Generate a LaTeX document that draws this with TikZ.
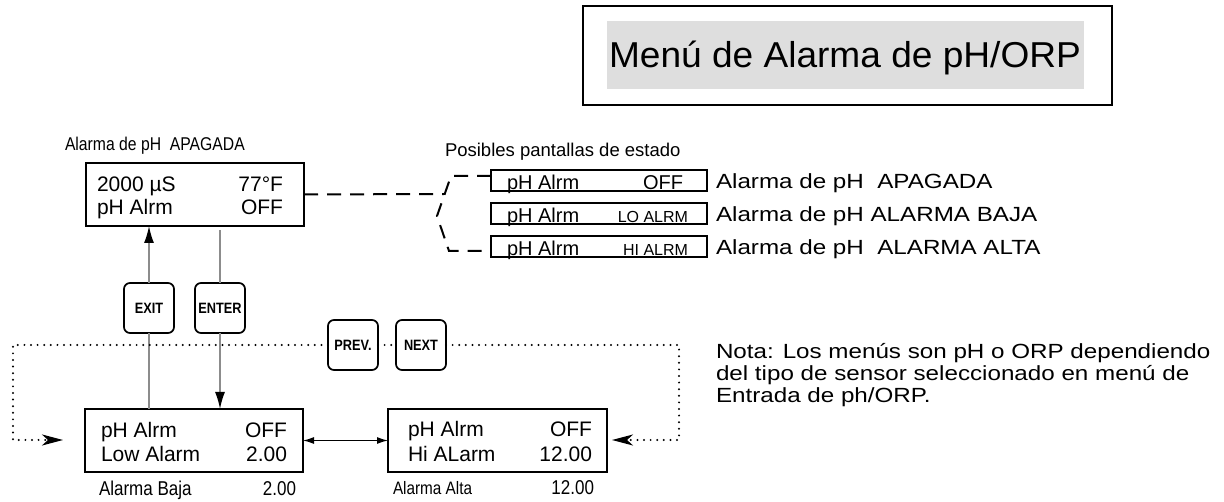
\documentclass[tikz,border=0pt]{standalone}
\usepackage{fontspec}
\setmainfont{Liberation Sans}
\newfontfamily\widefont[FakeStretch=1.18]{Liberation Sans}
\newfontfamily\notefont[FakeStretch=1.18]{Liberation Sans}
\newfontfamily\narrowfont[FakeStretch=0.85]{Liberation Sans}
\newfontfamily\titlefont[FakeStretch=1.03]{Liberation Sans}
\newfontfamily\btnfont[FakeStretch=0.85]{Liberation Sans}
\usetikzlibrary{arrows.meta}
\newcommand\fsz[1]{\fontsize{#1}{#1}\selectfont}
\begin{document}
\begin{tikzpicture}[x=1pt,y=-1pt,
  txt/.style={inner sep=0pt,outer sep=0pt},
  lcd/.style={draw,line width=1.9pt,inner sep=0pt,outer sep=0pt},
  stbox/.style={draw,line width=1.6pt,inner sep=0pt,outer sep=0pt,minimum width=216pt,minimum height=21pt},
  keybtn/.style={draw,rounded corners=6pt,line width=1.7pt,minimum width=50pt,minimum height=50pt,inner sep=0pt,outer sep=0pt,font=\btnfont\bfseries\fsz{15}},
  graylink/.style={draw=black!45,line width=1.5pt},
  dotline/.style={line width=2.2pt,dash pattern=on 0pt off 6.6pt,line cap=round},
  dashline/.style={line width=2pt,dash pattern=on 14pt off 9pt},
  tipL/.style={-{Latex[length=17pt,width=10pt,color=black]}},
  tipS/.style={-{Stealth[length=21pt,width=11pt,inset=6pt]}}
]
\useasboundingbox (0,0) rectangle (1224,502);

% title
\node[draw,line width=1.5pt,minimum width=529pt,minimum height=99pt,inner sep=0pt] (titlebox) at (847.5,55.5) {};
\node[fill=black!13,minimum width=477pt,minimum height=68pt,inner sep=0pt] (titlefill) at (845.5,55) {};
\node[txt,anchor=base west,font=\titlefont\fsz{36}] (titletxt) at (609,68) {Menú de Alarma de pH/ORP};

% top display
\node[txt,anchor=base west,font=\narrowfont\fsz{18.5}] (lblapag) at (65,151) {Alarma de pH~~APAGADA};
\node[lcd,minimum width=218pt,minimum height=63pt] (disp) at (195,194.5) {};
\node[txt,anchor=base west,font=\fsz{21}] (d1) at (97,192) {2000 µS};
\node[txt,anchor=base east,font=\fsz{21}] (d2) at (283,192) {77°F};
\node[txt,anchor=base west,font=\fsz{21}] (d3) at (97,215) {pH Alrm};
\node[txt,anchor=base east,font=\fsz{21}] (d4) at (283,215) {OFF};

% status screens
\node[txt,anchor=base west,font=\fsz{18.5}] (posib) at (445,157) {Posibles pantallas de estado};
\node[stbox] (sb1) at (599,180.5) {};
\node[stbox] (sb2) at (599,213.5) {};
\node[stbox] (sb3) at (599,246.5) {};
\node[txt,anchor=base west,font=\fsz{20}] (s1a) at (507,190) {pH Alrm};
\node[txt,anchor=base east,font=\fsz{20}] (s1b) at (683,190) {OFF};
\node[txt,anchor=base west,font=\fsz{20}] (s2a) at (507,223) {pH Alrm};
\node[txt,anchor=base east,font=\fsz{16}] (s2b) at (688,223) {LO ALRM};
\node[txt,anchor=base west,font=\fsz{20}] (s3a) at (507,256) {pH Alrm};
\node[txt,anchor=base east,font=\fsz{16}] (s3b) at (688,256) {HI ALRM};
\node[txt,anchor=base west,font=\widefont\fsz{20.5}] (l1) at (716,189) {Alarma de pH~~APAGADA};
\node[txt,anchor=base west,font=\widefont\fsz{20.5}] (l2) at (716,222) {Alarma de pH ALARMA BAJA};
\node[txt,anchor=base west,font=\widefont\fsz{20.5}] (l3) at (716,255) {Alarma de pH~~ALARMA ALTA};

% bracket
\coordinate (bt) at (451,176);
\coordinate (bm) at (437,216);
\coordinate (bb) at (449,251);
\coordinate (bj) at (444.7,194);
\draw[dashline] (sb1.west |- bt) -- (bt) -- (bm) -- (bb) -- (sb3.west |- bb);
\draw[dashline] (disp.east) -- (bj);

% keys
\node[keybtn] (exit) at (149,308) {EXIT};
\node[keybtn] (enter) at (220,308) {ENTER};
\node[keybtn] (prev) at (353,345) {PREV.};
\node[keybtn] (next) at (421,345) {NEXT};

% bottom displays
\node[lcd,minimum width=218pt,minimum height=63pt] (low) at (194,440.5) {};
\node[txt,anchor=base west,font=\fsz{21}] (lo1) at (101,438) {pH Alrm};
\node[txt,anchor=base east,font=\fsz{21}] (lo2) at (287,438) {OFF};
\node[txt,anchor=base west,font=\fsz{21}] (lo3) at (101,462) {Low Alarm};
\node[txt,anchor=base east,font=\fsz{21}] (lo4) at (287,462) {2.00};
\node[txt,anchor=base west,font=\narrowfont\fsz{20}] (lo5) at (99,495) {Alarma Baja};
\node[txt,anchor=base east,font=\narrowfont\fsz{20}] (lo6) at (296,495) {2.00};

\node[lcd,minimum width=219pt,minimum height=63pt] (hi) at (497.5,440.5) {};
\node[txt,anchor=base west,font=\fsz{21}] (hi1) at (408,437) {pH Alrm};
\node[txt,anchor=base east,font=\fsz{21}] (hi2) at (592,437) {OFF};
\node[txt,anchor=base west,font=\fsz{21}] (hi3) at (408,461) {Hi ALarm};
\node[txt,anchor=base east,font=\fsz{21}] (hi4) at (592,461) {12.00};
\node[txt,anchor=base west,font=\narrowfont\fsz{18}] (hi5) at (393,494) {Alarma Alta};
\node[txt,anchor=base east,font=\narrowfont\fsz{20}] (hi6) at (594,494) {12.00};

% gray links
\draw[graylink,tipL] (exit.north) -- (exit.north |- disp.south);
\draw[graylink] (exit.south |- low.north) -- (exit.south);
\draw[graylink] ([yshift=-4pt]enter.north |- disp.south) -- (enter.north);
\draw[graylink,tipL] (enter.south) -- (enter.south |- low.north);

% double arrow
\draw[line width=1.3pt,{Latex[length=11pt,width=7pt]}-{Latex[length=11pt,width=7pt]}] (low.east) -- (hi.west);

% dotted loop
\coordinate (dl) at (13,345);
\coordinate (dlb) at (13,440);
\coordinate (lt) at (63,440);
\coordinate (dr) at (679,345);
\coordinate (drb) at (679,440);
\coordinate (rt) at (612,440);
\draw[dotline,tipS] (prev.west) -- (dl) -- (dlb) -- (lt);
\draw[dotline] (prev.east) -- (next.west);
\draw[dotline,tipS] (next.east) -- (dr) -- (drb) -- (rt);

% note
\node[txt,anchor=base west,font=\notefont\fsz{20.5}] (n1) at (716,359) {Nota: Los menús son pH o ORP dependiendo};
\node[txt,anchor=base west,font=\notefont\fsz{20.5}] (n2) at (716,381) {del tipo de sensor seleccionado en menú de};
\node[txt,anchor=base west,font=\notefont\fsz{20.5}] (n3) at (716,403) {Entrada de ph/ORP.};
\end{tikzpicture}
\end{document}
